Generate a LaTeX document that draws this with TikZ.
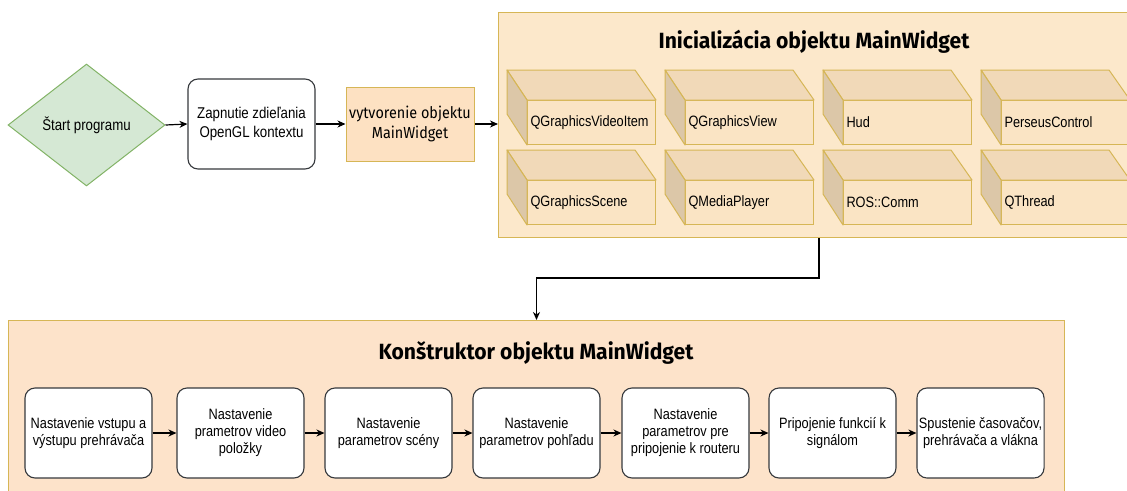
\documentclass[tikz,border=0pt]{standalone}
\usepackage{fontspec}
\setmainfont{Liberation Sans}[FakeStretch=0.85]
\newfontfamily\humfont{Fira Sans}[FakeStretch=0.9]
\newfontfamily\headfont{Fira Sans}[FakeStretch=0.96]
\usetikzlibrary{shapes.geometric,arrows.meta,calc}

\definecolor{gold}{HTML}{D6B656}
\definecolor{initfill}{HTML}{FCE8CB}
\definecolor{konfill}{HTML}{FDE3CA}
\definecolor{objfill}{HTML}{FDE1C2}
\definecolor{cubefront}{HTML}{FAE4C4}
\definecolor{cubetop}{HTML}{F1D9B8}
\definecolor{cubeleft}{HTML}{DCC7A8}
\definecolor{startfill}{HTML}{D5E8D4}
\definecolor{startline}{HTML}{82B366}
\definecolor{boxline}{HTML}{36393D}

\tikzset{
  txt/.style={font=\fontsize{15}{17}\selectfont},
  bigtxt/.style={font=\fontsize{15.6}{19}\selectfont},
  startshape/.style={diamond, draw=startline, fill=startfill, line width=1pt,
    minimum width=157pt, minimum height=122pt, inner sep=0pt, bigtxt},
  procbox/.style={draw=boxline, fill=white, rounded corners=10pt, line width=1.1pt,
    minimum width=127pt, minimum height=90pt, inner sep=2pt, align=center, txt},
  objbox/.style={draw=gold, fill=objfill, line width=1pt, minimum width=128pt,
    minimum height=74pt, inner sep=2pt, align=center,
    font=\humfont\fontsize{16}{20}\selectfont},
  container/.style={draw=gold, line width=1pt, anchor=north west, inner sep=0pt},
  heading/.style={font=\headfont\bfseries\fontsize{22}{26}\selectfont},
  cubeface/.style={anchor=north west, draw=gold, fill=cubefront, line width=1pt,
    minimum height=44pt, text width=122pt, inner xsep=3pt, inner ysep=0pt,
    align=left, txt},
  cubeside/.style={draw=gold, line width=1pt, line join=round},
  flow/.style={draw=black, line width=1.2pt,
    -{Stealth[length=8pt, width=7pt, inset=2.5pt]}},
}

% one cube: name, outer top-left x, outer top-left y, label
\newcommand\cubeitem[4]{%
  \node[cubeface] (#1) at (#2+20,#3+30) {#4};
  \draw[cubeside, fill=cubetop] (#1.north west) -- ++(-20,-30) -- ++(128,0)
    -- (#1.north east) -- cycle;
  \draw[cubeside, fill=cubeleft] (#1.north west) -- ++(-20,-30) -- ++(0,44)
    -- (#1.south west) -- cycle;
}

\begin{document}
\begin{tikzpicture}[x=1pt, y=-1pt]
\useasboundingbox (0,0) rectangle (1127,490);
\begin{scope}
\clip (0,0) rectangle (1127,490);

% start of the program
\node[startshape] (start) at (86.5,125) {Štart programu};
\node[procbox, bigtxt] (share) at (251.5,124) {Zapnutie zdieľania\\OpenGL kontextu};
\node[objbox] (create) at (410,124) {vytvorenie objektu\\MainWidget};

% initialisation container with its member objects
\node[container, fill=initfill, minimum width=632pt, minimum height=225pt]
  (init) at (498,12) {};
\node[heading] (inittitle) at (814,42) {Inicializácia objektu MainWidget};

\cubeitem{videoitem}{507}{70}{QGraphicsVideoItem}
\cubeitem{view}{665}{70}{QGraphicsView}
\cubeitem{hud}{823}{70}{Hud}
\cubeitem{perseus}{981}{70}{PerseusControl}
\cubeitem{scene}{507}{150}{QGraphicsScene}
\cubeitem{player}{665}{150}{QMediaPlayer}
\cubeitem{roscomm}{823}{150}{ROS::Comm}
\cubeitem{thread}{981}{150}{QThread}

% constructor container with its steps
\node[container, fill=konfill, minimum width=1056pt, minimum height=190pt]
  (kon) at (8,320) {};
\node[heading] (kontitle) at (536,353) {Konštruktor objektu MainWidget};

\node[procbox] (s1) at (25+63.5,433) {Nastavenie vstupu a\\výstupu prehrávača};
\node[procbox] (s2) at (177+63.5,433) {Nastavenie\\prametrov video\\položky};
\node[procbox] (s3) at (325+63.5,433) {Nastavenie\\parametrov scény};
\node[procbox] (s4) at (473+63.5,433) {Nastavenie\\parametrov pohľadu};
\node[procbox] (s5) at (622+63.5,433) {Nastavenie\\parametrov pre\\pripojenie k routeru};
\node[procbox] (s6) at (769+63.5,433) {Pripojenie funkcií k\\signálom};
\node[procbox] (s7) at (917+63.5,433) {Spustenie časovačov,\\prehrávača a vlákna};

% connectors
\draw[flow] (start.east) -- (share.west);
\draw[flow] (share.east) -- (create.west);
\draw[flow] (create.east) -- (create.east -| init.west);
\coordinate (bend) at (819,278);
\draw[flow] (init.south -| bend) -- (bend) -| (kon.north);
\draw[flow] (s1) -- (s2);
\draw[flow] (s2) -- (s3);
\draw[flow] (s3) -- (s4);
\draw[flow] (s4) -- (s5);
\draw[flow] (s5) -- (s6);
\draw[flow] (s6) -- (s7);
\end{scope}
\end{tikzpicture}
\end{document}
